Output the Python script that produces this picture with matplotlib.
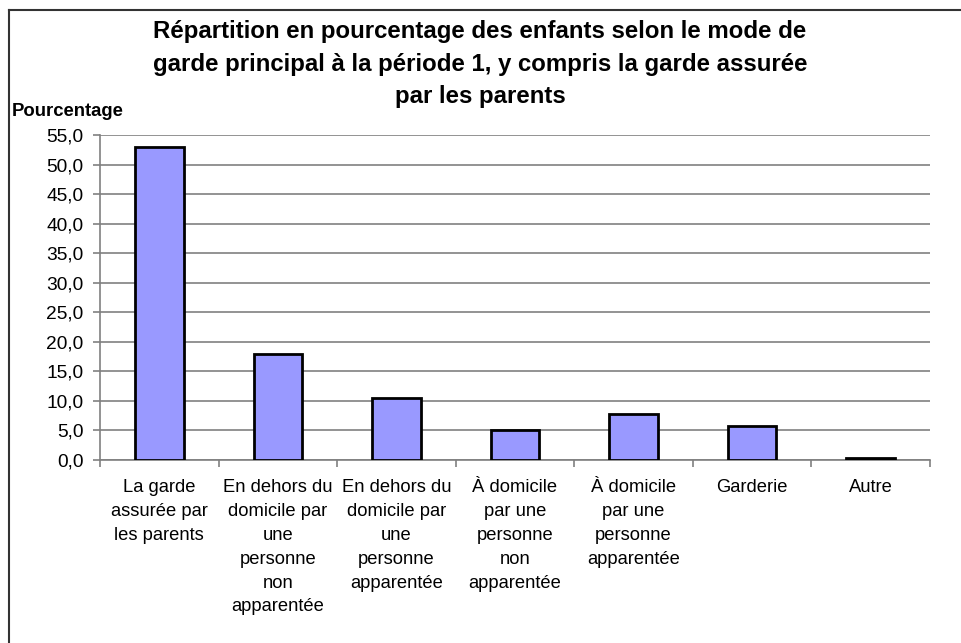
import matplotlib
matplotlib.use("Agg")
import matplotlib.pyplot as plt
from matplotlib.lines import Line2D

plt.rcParams['font.family'] = ['Liberation Sans', 'DejaVu Sans']

categories = [
    "La garde\nassurée par\nles parents",
    "En dehors du\ndomicile par\nune\npersonne\nnon\napparentée",
    "En dehors du\ndomicile par\nune\npersonne\napparentée",
    "À domicile\npar une\npersonne\nnon\napparentée",
    "À domicile\npar une\npersonne\napparentée",
    "Garderie",
    "Autre",
]
values = [52.9, 17.9, 10.5, 5.0, 7.8, 5.8, 0.3]
yticks = [0, 5, 10, 15, 20, 25, 30, 35, 40, 45, 50, 55]
ytick_labels = ["0,0", "5,0", "10,0", "15,0", "20,0", "25,0", "30,0", "35,0",
                "40,0", "45,0", "50,0", "55,0"]
title_lines = ["Répartition en pourcentage des enfants selon le mode de",
               "garde principal à la période 1, y compris la garde assurée",
               "par les parents"]
ylabel = "Pourcentage"

W, H = 961, 643
fig = plt.figure(figsize=(W / 100, H / 100), dpi=100)
ax = fig.add_axes([100 / W, 1 - 460 / H, 830 / W, 325 / H])

x = list(range(len(categories)))
ax.bar(x, values, width=0.41, color="#9999ff", edgecolor="black", linewidth=2, zorder=3)

ax.set_xlim(-0.5, len(categories) - 0.5)
ax.set_ylim(0, 55)
ax.set_yticks(yticks)
ax.set_yticklabels(ytick_labels, fontsize=13.8)
ax.yaxis.grid(True, color="#808080", linewidth=1.2, zorder=0)
ax.set_xticks([i - 0.5 for i in range(len(categories) + 1)])
ax.set_xticklabels([])
ax.tick_params(axis='x', direction='out', length=5, color="#808080", width=1.2)
ax.tick_params(axis='y', direction='out', length=5, color="#808080", width=1.2, pad=7)
for s in ["top", "right"]:
    ax.spines[s].set_visible(False)
for s in ["left", "bottom"]:
    ax.spines[s].set_color("#808080")
    ax.spines[s].set_linewidth(1.2)

for i, lab in enumerate(categories):
    ax.text(i, -3.3, lab, ha="center", va="top", fontsize=13.2, linespacing=1.52,
            transform=ax.transData)

for k, line in enumerate(title_lines):
    fig.text(480 / W, 1 - (38 + 32.5 * k) / H, line, ha="center", va="baseline",
             fontsize=17.3, fontweight="bold")
fig.text(12 / W, 1 - 111 / H, ylabel, ha="left", va="center", fontsize=13.3,
         fontweight="bold")

fig.add_artist(Line2D([8.5 / W, 8.5 / W], [0, 1 - 10 / H], color="#333333",
                      linewidth=1.5, transform=fig.transFigure))
fig.add_artist(Line2D([8.5 / W, 1], [1 - 10 / H, 1 - 10 / H], color="#333333",
                      linewidth=1.5, transform=fig.transFigure))

fig.savefig("out.png", dpi=100)
